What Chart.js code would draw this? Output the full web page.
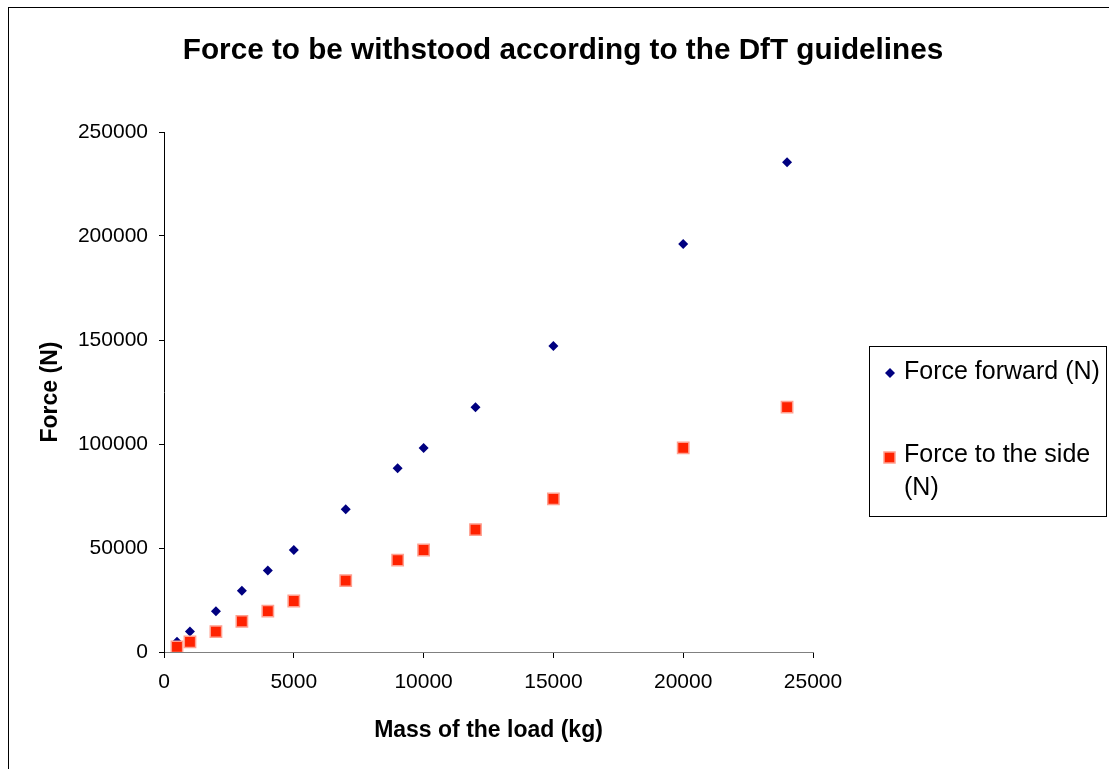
<!DOCTYPE html>
<html>
<head>
<meta charset="utf-8">
<script src="https://cdn.jsdelivr.net/npm/chart.js@4/dist/chart.umd.min.js"></script>
<style>
  html, body { margin: 0; padding: 0; background: #fff; }
  canvas { display: block; }
</style>
</head>
<body>
<canvas id="c" width="1109" height="769" style="width:1109px;height:769px"></canvas>
<script>
const chartTitle = "Force to be withstood according to the DfT guidelines";
const xTitle = "Mass of the load (kg)";
const yTitle = "Force (N)";
const seriesNames = ["Force forward (N)", "Force to the side (N)"];
const massKg = [500, 1000, 2000, 3000, 4000, 5000, 7000, 9000, 10000, 12000, 15000, 20000, 24000];
const forceForward = [4905, 9810, 19620, 29430, 39240, 49050, 68670, 88290, 98100, 117720, 147150, 196200, 235440];
const forceSide = [2452, 4905, 9810, 14715, 19620, 24525, 34335, 44145, 49050, 58860, 73575, 98100, 117720];
const xTicks = [0, 5000, 10000, 15000, 20000, 25000];
const yTicks = [0, 50000, 100000, 150000, 200000, 250000];

const FONT = "'Liberation Sans', Arial, Helvetica, sans-serif";
const NAVY = "#000080";
const RED_FILL = "#ff2200";
const RED_EDGE = "#ffa090";

function pts(xs, ys) { return xs.map((x, i) => ({ x: x, y: ys[i] })); }

const decor = {
  id: 'decor',
  afterDraw(chart) {
    const ctx = chart.ctx;
    ctx.save();
    // outer chart border
    ctx.strokeStyle = "#000";
    ctx.lineWidth = 1;
    ctx.strokeRect(8.5, 7.5, 1300, 1000);
    // title
    ctx.fillStyle = "#000";
    ctx.font = "bold 29.7px " + FONT;
    ctx.textAlign = "center";
    ctx.textBaseline = "middle";
    ctx.fillText(chartTitle, 563, 51);
    // legend box
    ctx.strokeStyle = "#000";
    ctx.lineWidth = 1;
    ctx.strokeRect(869.5, 346.5, 237, 170);
    ctx.font = "25px " + FONT;
    ctx.textAlign = "left";
    ctx.textBaseline = "middle";
    // diamond
    ctx.fillStyle = NAVY;
    ctx.beginPath();
    ctx.moveTo(890, 368); ctx.lineTo(895, 373); ctx.lineTo(890, 378); ctx.lineTo(885, 373);
    ctx.closePath(); ctx.fill();
    ctx.fillStyle = "#000";
    ctx.fillText(seriesNames[0], 904, 372);
    // square
    ctx.fillStyle = RED_FILL;
    ctx.fillRect(884, 452, 11, 11);
    ctx.strokeStyle = RED_EDGE;
    ctx.lineWidth = 1.5;
    ctx.strokeRect(884, 452, 11, 11);
    ctx.fillStyle = "#000";
    ctx.fillText("Force to the side", 904, 455);
    ctx.fillText("(N)", 904, 488);
    ctx.restore();
  }
};

new Chart(document.getElementById('c'), {
  type: 'scatter',
  data: {
    datasets: [
      {
        label: seriesNames[0],
        data: pts(massKg, forceForward),
        pointStyle: 'rectRot',
        pointRadius: 5,
        pointHoverRadius: 5,
        backgroundColor: NAVY,
        borderColor: NAVY,
        borderWidth: 0,
        order: 2
      },
      {
        label: seriesNames[1],
        data: pts(massKg, forceSide),
        pointStyle: 'rect',
        pointRadius: 8,
        pointHoverRadius: 8,
        backgroundColor: RED_FILL,
        borderColor: RED_EDGE,
        borderWidth: 1.5,
        order: 1
      }
    ]
  },
  options: {
    responsive: false,
    animation: false,
    devicePixelRatio: 1,
    layout: { padding: { left: 0, top: 132, right: 296, bottom: 25 } },
    plugins: {
      legend: { display: false },
      title: { display: false },
      tooltip: { enabled: false }
    },
    scales: {
      x: {
        type: 'linear',
        min: 0, max: 25000,
        afterBuildTicks(scale) { scale.ticks = xTicks.map(v => ({ value: v })); },
        afterFit(scale) { scale.height = 92; },
        border: { display: true, color: "#808080", width: 1 },
        grid: { drawOnChartArea: false, drawTicks: true, tickLength: 6, color: "#000" },
        ticks: {
          color: "#000", padding: 12, maxRotation: 0, autoSkip: false,
          font: { family: FONT, size: 21 },
          callback: v => String(v)
        },
        title: {
          display: true, text: xTitle, color: "#000",
          font: { family: FONT, size: 23, weight: 'bold' },
          padding: { top: 0, bottom: 0 }
        }
      },
      y: {
        type: 'linear',
        min: 0, max: 250000,
        afterBuildTicks(scale) { scale.ticks = yTicks.map(v => ({ value: v })); },
        afterFit(scale) { scale.width = 164; },
        border: { display: true, color: "#000", width: 1 },
        grid: { drawOnChartArea: false, drawTicks: true, tickLength: 5, color: "#000" },
        ticks: {
          color: "#000", padding: 11, autoSkip: false,
          font: { family: FONT, size: 21 },
          callback: v => String(v)
        },
        title: {
          display: true, text: yTitle, color: "#000",
          font: { family: FONT, size: 23, weight: 'bold' },
          padding: { top: 37, bottom: 0 }
        }
      }
    }
  },
  plugins: [decor]
});
</script>
</body>
</html>
